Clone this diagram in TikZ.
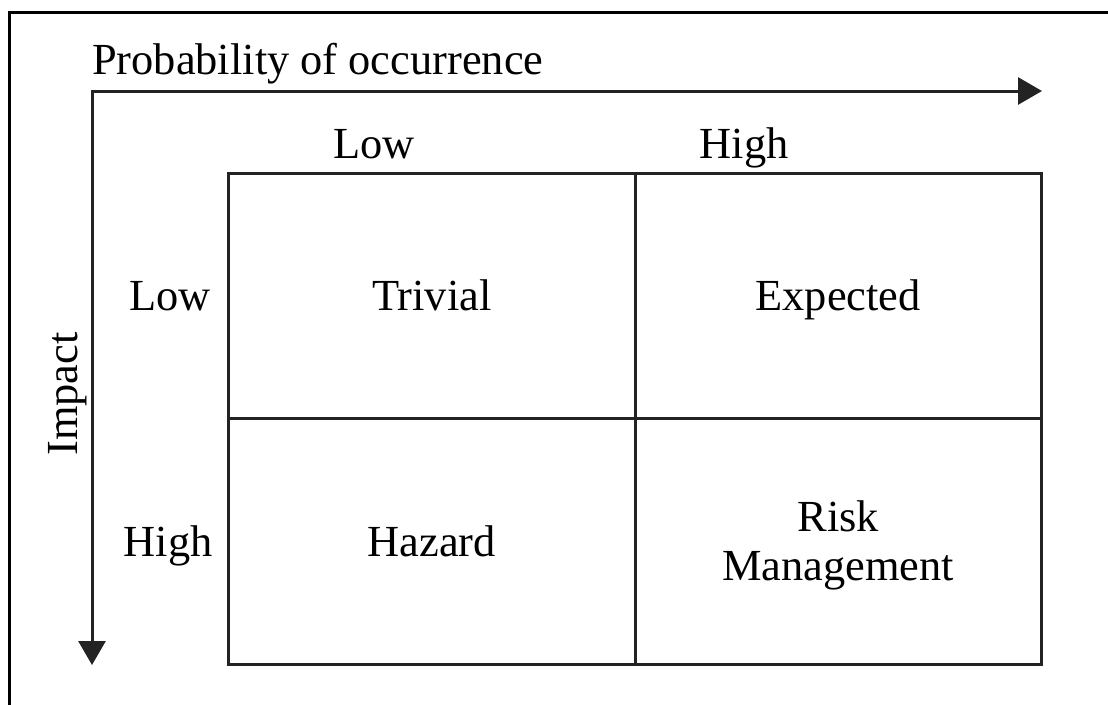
\documentclass[tikz,border=0pt]{standalone}
\usepackage{fontspec}
\setmainfont{Liberation Serif}
\usetikzlibrary{arrows.meta}
\definecolor{ink}{RGB}{35,35,35}
\begin{document}
\begin{tikzpicture}[x=1pt,y=-1pt,
  txt/.style={font=\fontsize{44.4}{49}\selectfont, text=black},
  lbl/.style={txt, inner sep=0pt, anchor=base},
  cell/.style={txt, draw=ink, line width=3pt, minimum width=406.5pt,
    minimum height=245.5pt, inner sep=0pt, text height=30pt, text depth=0pt},
  axis/.style={draw=ink, line width=3pt,
    {Triangle[length=24pt,width=27pt]}-{Triangle[length=24pt,width=27pt]}},
  frame/.style={draw=black, line width=3pt}]
\useasboundingbox (0,0) rectangle (1108,704);

% open page frame (left and top edges)
\coordinate (fbl) at (9,712);
\coordinate (ftl) at (9,12);
\coordinate (ftr) at (1116,12);
\draw[frame] (fbl) -- (ftl) -- (ftr);

% axes
\coordinate (corner) at (92,91);
\coordinate (htip) at (1042,91);
\coordinate (vtip) at (92,665);
\draw[axis] (htip) -- (corner) -- (vtip);

\node[lbl, anchor=base west] (prob) at (92,74) {Probability of occurrence};
\node[lbl, rotate=90] (impact) at (77,394) {Impact};

% column and row headings
\node[lbl] (colLow) at (374,158) {Low};
\node[lbl] (colHigh) at (744,158) {High};
\node[lbl] (rowLow) at (170,310) {Low};
\node[lbl] (rowHigh) at (168,556) {High};

% the 2x2 matrix
\node[cell] (trivial) at (431.75,295.75) {Trivial};
\node[cell] (expected) at (838.25,295.75) {Expected};
\node[cell] (hazard) at (431.75,541.25) {Hazard};
\node[cell, text height=, text depth=, align=center] (riskmgmt) at (838.25,541.25)
  {\rule{0pt}{40pt}Risk\\Management};
\end{tikzpicture}
\end{document}
